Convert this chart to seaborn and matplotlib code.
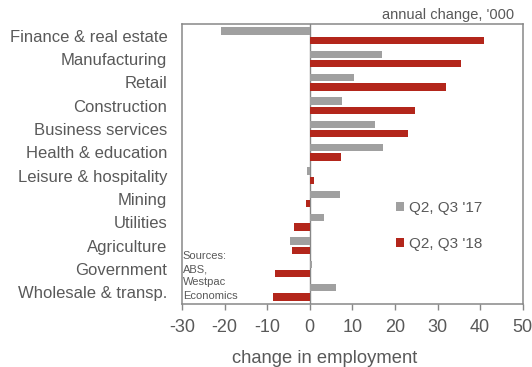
import matplotlib
matplotlib.use("Agg")
import matplotlib.pyplot as plt
import seaborn as sns
import pandas as pd

sectors = [
    "Finance & real estate", "Manufacturing", "Retail", "Construction",
    "Business services", "Health & education", "Leisure & hospitality",
    "Mining", "Utilities", "Agriculture", "Government", "Wholesale & transp.",
]
change_17 = [-20.8, 16.9, 10.3, 7.6, 15.3, 17.2, -0.7, 7.0, 3.4, -4.7, 0.5, 6.2]
change_18 = [40.8, 35.5, 31.9, 24.6, 23.1, 7.4, 1.1, -0.9, -3.6, -4.2, -8.1, -8.7]
series_names = ["Q2, Q3 '17", "Q2, Q3 '18"]
x_ticks = [-30, -20, -10, 0, 10, 20, 30, 40, 50]

GREY = "#a0a0a0"
RED = "#b3261b"
TEXT = "#595959"
AXIS = "#878787"

df = pd.DataFrame({
    "sector": sectors * 2,
    "value": change_17 + change_18,
    "period": [series_names[0]] * len(sectors) + [series_names[1]] * len(sectors),
})

sns.set_theme(style="white")
plt.rcParams["font.family"] = ["Liberation Sans", "DejaVu Sans"]

fig = plt.figure(figsize=(5.32, 3.67), dpi=100)
ax = fig.add_axes([0.342, 0.172, 0.6405, 0.7625])

sns.barplot(
    data=df, x="value", y="sector", hue="period", order=sectors,
    hue_order=series_names, palette=[GREY, RED], orient="h",
    width=0.8, gap=0.2, linewidth=0, saturation=1, ax=ax,
)

ax.set_xlim(-30, 50)
ax.set_xticks(x_ticks)
ax.set_xticklabels([str(t) for t in x_ticks])
ax.axvline(0, color=AXIS, lw=1.0, zorder=0.5)

for side in ["left", "right", "top", "bottom"]:
    ax.spines[side].set_visible(True)
    ax.spines[side].set_color(AXIS)
    ax.spines[side].set_linewidth(1.1)

ax.tick_params(axis="x", direction="out", length=4, width=1.0, color=AXIS,
               labelsize=13, labelcolor=TEXT, pad=7, bottom=True)
ax.tick_params(axis="y", length=0, labelsize=12, labelcolor=TEXT, pad=10.5)

ax.set_ylabel("")
ax.set_xlabel("change in employment", fontsize=13.2, color=TEXT, labelpad=10)
ax.xaxis.label.set_x(0.42)

ax.text(0.975, 1.008, "annual change, '000", transform=ax.transAxes,
        ha="right", va="bottom", fontsize=10.5, color=TEXT)

ax.text(0.002, 0.012, "Sources:\nABS,\nWestpac\nEconomics", transform=ax.transAxes,
        ha="left", va="bottom", fontsize=8, color=TEXT, linespacing=1.38)

sns.move_legend(
    ax, "upper left", bbox_to_anchor=(0.628, 0.368), frameon=False, title=None,
    fontsize=11, handlelength=0.55, handleheight=0.55, handletextpad=0.3,
    labelspacing=1.45, borderpad=0, borderaxespad=0,
)
for t in ax.get_legend().get_texts():
    t.set_color(TEXT)

fig.savefig("out.png", dpi=100)
